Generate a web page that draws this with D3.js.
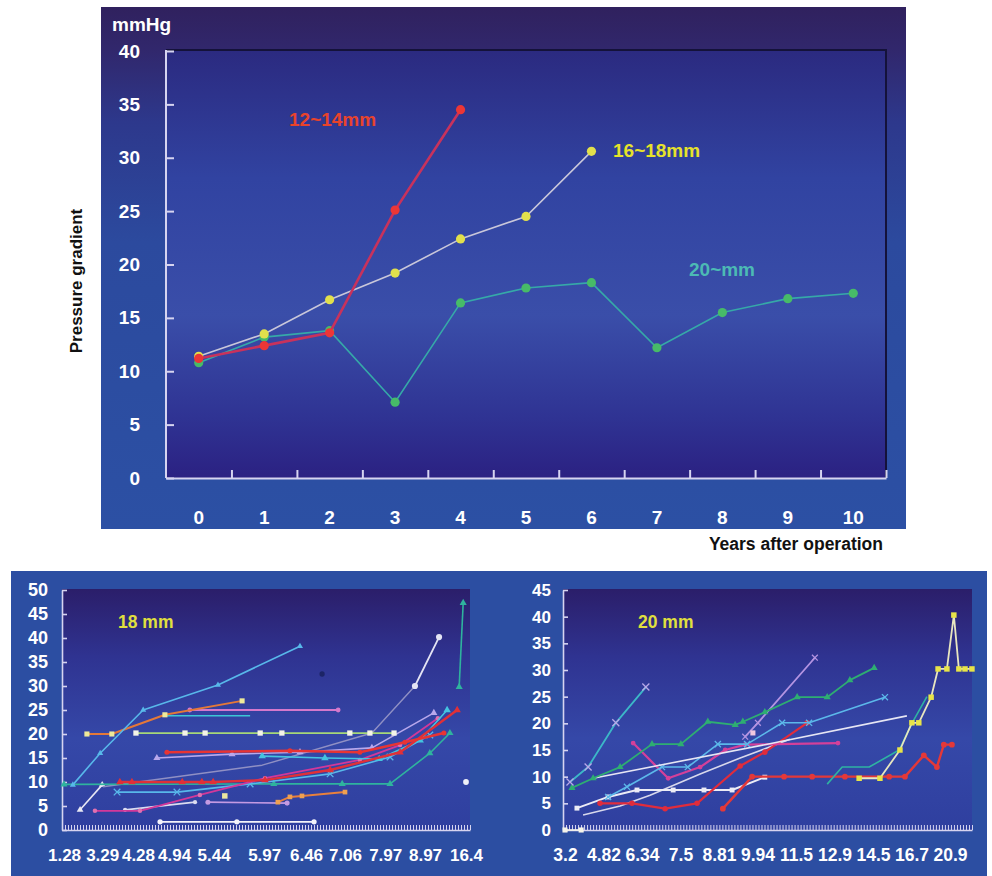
<!DOCTYPE html>
<html>
<head>
<meta charset="utf-8">
<script src="https://cdn.jsdelivr.net/npm/d3@7"></script>
<style>
  html, body { margin: 0; padding: 0; background: #ffffff; }
  svg { display: block; font-family: "Liberation Sans", Arial, Helvetica, sans-serif; font-weight: bold; }
</style>
</head>
<body>
<svg id="chart" width="992" height="876"></svg>
<script>
// ---------- Mean pressure gradient by conduit size (top chart) ----------
const years = [0, 1, 2, 3, 4, 5, 6, 7, 8, 9, 10];
const yTicksTop = [0, 5, 10, 15, 20, 25, 30, 35, 40];
const grad12to14 = [11.2, 12.4, 13.6, 25.1, 34.5];
const grad16to18 = [11.4, 13.5, 16.7, 19.2, 22.4, 24.5, 30.6];
const grad20 = [10.8, 13.2, 13.8, 7.1, 16.4, 17.8, 18.3, 12.2, 15.5, 16.8, 17.3];

// ---------- Individual patients, 18 mm conduit ----------
// x = follow-up sample position (0..100), y = pressure gradient in mmHg
const ageLabels18 = ["1.28", "3.29", "4.28", "4.94", "5.44", "5.97", "6.46", "7.06", "7.97", "8.97", "16.4"];
const ageAt18 = [0, 9.5, 18.4, 27.4, 37.2, 49.8, 60.2, 69.9, 79.9, 89.8, 100];
const yTicks18 = [0, 5, 10, 15, 20, 25, 30, 35, 40, 45, 50];
const p18skyRise = [[2.2, 9.4], [9.0, 16.0], [19.7, 25.0], [38.3, 30.2], [58.7, 38.3]];
const p18orange = [[5.7, 20], [11.9, 20], [25.1, 24], [44.3, 26.9]];
const p18pink = [[31.3, 25], [68.2, 25]];
const p18cyan = [[25.1, 23.8], [46.3, 23.8]];
const p18green = [[17.9, 20.2], [30.1, 20.2], [35.1, 20.2], [48.8, 20.2], [54.2, 20.2], [71.1, 20.2], [76.1, 20.2], [82.1, 20.2]];
const p18redHigh = [[25.6, 16.2], [56.2, 16.5], [73.6, 16.2], [84.8, 18.3], [94.5, 20.2]];
const p18redLow = [[13.9, 10], [16.9, 10], [29.4, 10], [34.3, 10], [37.1, 10], [50.0, 10.4], [66.2, 12.5], [83.6, 16.2], [97.8, 25]];
const p18lavender = [[23.1, 15], [41.8, 15.8], [58.7, 16.2], [76.6, 17.1], [92.0, 24.4]];
const p18cyanTri = [[49.3, 15.4], [64.9, 15], [78.4, 14.8], [88.6, 18.7], [95.3, 25]];
const p18gray = [[9.7, 9], [49.3, 13.5], [76.6, 20.2], [87.3, 30]];
const p18whiteTop = [[87.3, 30], [93.3, 40.2]];
const p18skyX = [[13.2, 7.9], [28.1, 7.9], [46.3, 9.6], [66.2, 11.7], [81.1, 15.2], [91.0, 19.8]];
const p18magenta = [[7.7, 4], [18.9, 4], [33.8, 7.3], [50.0, 10.8], [73.6, 14.6], [83.6, 17.7], [93.0, 23.3]];
const p18whiteRise = [[4, 4.2], [9.5, 9.4]];
const p18whiteLow = [[15.2, 4.2], [32.6, 5.8]];
const p18lilacLow = [[35.8, 5.8], [55.5, 5.6]];
const p18orangeLow = [[53.2, 5.8], [56.2, 6.9], [59.2, 7.1], [69.9, 7.9]];
const p18whiteBase = [[23.9, 1.7], [43.0, 1.7], [62.2, 1.7]];
const p18teal = [[0, 9.5], [52.2, 9.6], [69.2, 9.6], [81.1, 9.6], [91.0, 16], [96.0, 20.2]];
const p18tealEnd = [[98.3, 29.8], [99.3, 47.3]];
const p18single1 = [[100, 10]];
const p18single2 = [[40, 7.1]];
const p18single3 = [[64.2, 32.5]];

// ---------- Individual patients, 20 mm conduit ----------
const ageLabels20 = ["3.2", "4.82", "6.34", "7.5", "8.81", "9.94", "11.5", "12.9", "14.5", "16.7", "20.9"];
const ageAt20 = [0, 10, 20, 30, 40, 50, 60, 70, 80, 90, 100];
const yTicks20 = [0, 5, 10, 15, 20, 25, 30, 35, 40, 45];
const p20tealX = [[1.3, 9.0], [6.0, 11.8], [13.2, 20.1], [21.0, 26.8]];
const p20green = [[1.8, 7.9], [7.3, 9.7], [14.3, 11.8], [22.6, 16.1], [30.1, 16.1], [37.1, 20.3], [44.2, 19.7], [46.2, 20.3], [51.9, 22.1], [60.3, 24.9], [68.1, 24.9], [74.0, 28.1], [80.3, 30.4]];
const p20whiteLong = [[7.3, 9.7], [51.9, 16.0], [88.8, 21.4]];
const p20pink = [[17.7, 16.3], [26.8, 9.7], [35.1, 11.8], [41.6, 15], [46.8, 16], [70.9, 16.3]];
const p20sky = [[11.2, 6.2], [16.1, 8.1], [25.2, 11.8], [31.9, 11.8], [39.7, 16.1], [47.3, 16.1], [56.4, 20.1], [63.4, 20.1], [83.1, 24.9]];
const p20whiteSq = [[3.1, 4.1], [11.2, 6.2], [18.7, 7.5], [28.1, 7.5], [36.1, 7.5], [43.4, 7.5], [51.9, 9.9]];
const p20redLow = [[9.1, 5], [17.4, 5], [26.0, 4], [34.3, 5], [45.5, 12], [51.9, 14.6], [62.9, 20.1]];
const p20redLong = [[41.0, 4], [48.6, 10], [56.9, 10], [64.2, 10], [72.7, 10], [84.2, 10], [88.3, 10], [93.2, 14], [96.6, 11.8], [98.4, 16], [100.5, 16]];
const p20yellow = [[76.4, 9.7], [81.8, 9.7], [87.0, 15], [90.1, 20.1], [91.9, 20.1], [95.1, 24.9], [96.9, 30.2], [99.2, 30.2], [101.0, 40.3], [102.3, 30.2], [103.9, 30.2], [105.7, 30.2]];
const p20teal = [[68.1, 8.6], [72.0, 11.8], [79.0, 11.8], [86.8, 15], [90.1, 20], [94.0, 25]];
const p20lavender = [[46.8, 17.5], [50.1, 20.1], [64.9, 32.3]];
const p20whiteRise = [[4.7, 2.8], [14.3, 4.5], [22.1, 6.5], [35.1, 10.5], [45.5, 13.5], [58.4, 17]];
const p20single = [[48.8, 18.2]];
const p20zero = [[0, 0], [4.2, 0]];

// ---------------------------------------------------------------------------
const svg = d3.select("#chart");
const defs = svg.append("defs");

function vGrad(id, stops) {
  const g = defs.append("linearGradient").attr("id", id)
    .attr("x1", 0).attr("y1", 0).attr("x2", 0).attr("y2", 1);
  stops.forEach(([o, c]) => g.append("stop").attr("offset", o).attr("stop-color", c));
}
vGrad("topPanel", [[0, "#30215e"], [0.08, "#31276c"], [0.22, "#2d388c"], [0.45, "#2c4a9e"], [1, "#2c50a4"]]);
vGrad("topPlot", [[0, "#2b2a80"], [0.3, "#3143a1"], [0.62, "#3a4ea9"], [0.86, "#2f3393"], [1, "#2b2182"]]);
vGrad("botPlot", [[0, "#2b1e6a"], [0.28, "#2f3391"], [0.62, "#3548a8"], [1, "#2f3f9f"]]);

// ======================= TOP CHART =======================
const T = { left: 166, right: 886, top: 51, bottom: 478 };
svg.append("rect").attr("x", 101).attr("y", 7).attr("width", 805).attr("height", 522)
  .attr("fill", "url(#topPanel)");
svg.append("rect").attr("x", T.left).attr("y", 50).attr("width", T.right - T.left).attr("height", T.bottom - 50)
  .attr("fill", "url(#topPlot)");
// dark frame on top and right
svg.append("path").attr("d", `M${T.left},50H${T.right}V${T.bottom}`)
  .attr("fill", "none").attr("stroke", "#14123a").attr("stroke-width", 2);

const xTop = d3.scaleBand().domain(years).range([T.left, T.right]);
const xEdge = d3.scaleLinear().domain([0, years.length]).range([T.left, T.right]);
const yTop = d3.scaleLinear().domain([0, 40]).range([T.bottom, T.top]);
const cx = i => xTop(years[i]) + xTop.bandwidth() / 2;

const axisColor = "#d6d4f0";
function styleAxis(g, fontSize, width) {
  g.selectAll(".domain").attr("stroke", axisColor).attr("stroke-width", width);
  g.selectAll(".tick line").attr("stroke", axisColor).attr("stroke-width", width);
  g.selectAll(".tick text").attr("fill", "#ffffff").attr("font-size", fontSize)
    .attr("font-weight", "bold").attr("font-family", '"Liberation Sans", Arial, sans-serif');
}

const gYTop = svg.append("g").attr("transform", `translate(${T.left},0)`)
  .call(d3.axisLeft(yTop).tickValues(yTicksTop).tickSize(-8).tickSizeOuter(0).tickPadding(26));
styleAxis(gYTop, 19, 2);
gYTop.select(".domain").attr("d", `M0,${T.bottom}V50`);

const gXLab = svg.append("g").attr("transform", `translate(0,${T.bottom})`)
  .call(d3.axisBottom(xTop).tickSize(0).tickPadding(33));
styleAxis(gXLab, 19, 2);
gXLab.select(".domain").remove();
const gXEdge = svg.append("g").attr("transform", `translate(0,${T.bottom})`)
  .call(d3.axisBottom(xEdge).tickValues(d3.range(1, years.length + 1)).tickSize(-8).tickSizeOuter(0).tickFormat(""));
styleAxis(gXEdge, 19, 2);

const lineTop = d3.line().x((d, i) => cx(i)).y(d => yTop(d));
const topSeries = [
  { vals: grad20, line: "#36a9a8", w: 1.6, dot: "#47bb68" },
  { vals: grad16to18, line: "#c9c7da", w: 1.6, dot: "#e2e04c" },
  { vals: grad12to14, line: "#c8325c", w: 2.6, dot: "#ec3636" }
];
topSeries.forEach(s => {
  svg.append("path").datum(s.vals).attr("d", lineTop)
    .attr("fill", "none").attr("stroke", s.line).attr("stroke-width", s.w);
  svg.append("g").selectAll("circle").data(s.vals).join("circle")
    .attr("cx", (d, i) => cx(i)).attr("cy", d => yTop(d)).attr("r", 4.6)
    .attr("fill", s.dot);
});

svg.append("text").attr("x", 289).attr("y", 126).attr("fill", "#e8432c").attr("font-size", 19).text("12~14mm");
svg.append("text").attr("x", 613).attr("y", 157).attr("fill", "#e6e22a").attr("font-size", 19).text("16~18mm");
svg.append("text").attr("x", 689).attr("y", 276).attr("fill", "#4cbab4").attr("font-size", 19).text("20~mm");
svg.append("text").attr("x", 112).attr("y", 31).attr("fill", "#ffffff").attr("font-size", 19).text("mmHg");
svg.append("text").attr("transform", "translate(82,281) rotate(-90)").attr("text-anchor", "middle")
  .attr("fill", "#111111").attr("font-size", 17).text("Pressure gradient");
svg.append("text").attr("x", 883).attr("y", 550).attr("text-anchor", "end")
  .attr("fill", "#111111").attr("font-size", 17.5).text("Years after operation");

// ======================= BOTTOM CHARTS =======================
svg.append("rect").attr("x", 11).attr("y", 571).attr("width", 976).attr("height", 305).attr("fill", "#2c4ea2");

const symbolOf = {
  circle: d3.symbolCircle, square: d3.symbolSquare, triangle: d3.symbolTriangle,
  diamond: d3.symbolDiamond, x: d3.symbolTimes || d3.symbolCross
};

function drawPanel(cfg) {
  const P = cfg.box;
  svg.append("rect").attr("x", P.left).attr("y", P.top).attr("width", P.right - P.left)
    .attr("height", P.bottom - P.top).attr("fill", "url(#botPlot)");
  const x = d3.scaleLinear().domain([0, 100]).range(cfg.xRange);
  const y = d3.scaleLinear().domain([0, cfg.yMax]).range([P.bottom, P.top + 1]);

  // dense sample ticks along the baseline
  const xMinor = d3.scaleLinear().domain([0, 136]).range([P.left, P.right]);
  const gMinor = svg.append("g").attr("transform", `translate(0,${P.bottom})`)
    .call(d3.axisBottom(xMinor).tickValues(d3.range(1, 137)).tickSize(-5).tickSizeOuter(0).tickFormat(""));
  styleAxis(gMinor, 17, 1);
  gMinor.select(".domain").attr("stroke-width", 1.6);

  const gY = svg.append("g").attr("transform", `translate(${P.left},0)`)
    .call(d3.axisLeft(y).tickValues(cfg.yTicks).tickSize(-5).tickSizeOuter(0).tickPadding(cfg.yPad));
  styleAxis(gY, cfg.yFont, 1.6);

  const gX = svg.append("g").attr("transform", `translate(0,${P.bottom})`)
    .call(d3.axisBottom(x).tickValues(cfg.tickAt).tickSize(0).tickPadding(19)
      .tickFormat((d, i) => cfg.tickLabels[i]));
  styleAxis(gX, cfg.xFont, 1);
  gX.select(".domain").remove();

  const line = d3.line().x(d => x(d[0])).y(d => y(d[1]));
  cfg.series.forEach(s => {
    if (s.pts.length > 1) {
      svg.append("path").datum(s.pts).attr("d", line).attr("fill", "none")
        .attr("stroke", s.c).attr("stroke-width", s.w || 1.6).attr("stroke-linejoin", "round");
    }
    if (s.m) {
      const sym = d3.symbol().type(symbolOf[s.m]).size(s.size || 24);
      svg.append("g").selectAll("path").data(s.pts).join("path")
        .attr("transform", d => `translate(${x(d[0])},${y(d[1])})`)
        .attr("d", sym)
        .attr("fill", s.m === "x" ? "none" : (s.mc || s.c))
        .attr("stroke", s.m === "x" ? (s.mc || s.c) : "none")
        .attr("stroke-width", 1.3);
    }
  });

  svg.append("text").attr("x", cfg.title.x).attr("y", 628).attr("fill", "#e0e03e")
    .attr("font-size", 17.5).text(cfg.title.text);
}

drawPanel({
  box: { left: 62, right: 470, top: 589, bottom: 830 },
  xRange: [64, 466], yMax: 50, yTicks: yTicks18, yPad: 14, yFont: 18, xFont: 17,
  tickAt: ageAt18, tickLabels: ageLabels18,
  title: { x: 118, text: "18 mm" },
  series: [
    { pts: p18whiteBase, c: "#f2f2fa", w: 1.8, m: "circle", size: 22 },
    { pts: p18lilacLow, c: "#c49ae2", m: "circle", size: 20 },
    { pts: p18orangeLow, c: "#e8803c", w: 2, m: "square", size: 22, mc: "#f0a050" },
    { pts: p18whiteRise, c: "#e8e8f4", m: "triangle", size: 20 },
    { pts: p18whiteLow, c: "#dcdcf0", m: "circle", size: 14 },
    { pts: p18gray, c: "#9090c4", w: 1.4 },
    { pts: p18whiteTop, c: "#e4e4f4", w: 1.8, m: "circle", size: 30 },
    { pts: p18teal, c: "#2fb39e", w: 1.6, m: "triangle", size: 22 },
    { pts: p18tealEnd, c: "#2fb39e", w: 1.6, m: "triangle", size: 22 },
    { pts: p18skyX, c: "#58b8ea", w: 1.6, m: "x", size: 30 },
    { pts: p18magenta, c: "#d2389a", w: 1.8, m: "circle", size: 16, mc: "#e070b0" },
    { pts: p18lavender, c: "#b8a8ec", w: 1.6, m: "triangle", size: 22 },
    { pts: p18cyanTri, c: "#44c4e0", w: 1.6, m: "triangle", size: 24 },
    { pts: p18redLow, c: "#e03038", w: 2.4, m: "triangle", size: 24 },
    { pts: p18redHigh, c: "#e83434", w: 2.6, m: "circle", size: 20 },
    { pts: p18green, c: "#a6d878", w: 1.8, m: "square", size: 28, mc: "#f4f4e8" },
    { pts: p18cyan, c: "#3cc6d6", w: 1.6 },
    { pts: p18pink, c: "#d478cc", w: 2, m: "circle", size: 18 },
    { pts: p18orange, c: "#e47838", w: 2, m: "square", size: 26, mc: "#eeea9a" },
    { pts: p18skyRise, c: "#58b8ea", w: 1.6, m: "triangle", size: 16 },
    { pts: p18single1, c: "#f0f0f8", m: "circle", size: 26 },
    { pts: p18single2, c: "#eae6a0", m: "square", size: 30 },
    { pts: p18single3, c: "#1c2466", m: "circle", size: 22 }
  ]
});

drawPanel({
  box: { left: 563, right: 972, top: 589, bottom: 830 },
  xRange: [565, 950], yMax: 45, yTicks: yTicks20, yPad: 12, yFont: 17, xFont: 17.5,
  tickAt: ageAt20, tickLabels: ageLabels20,
  title: { x: 638, text: "20 mm" },
  series: [
    { pts: p20zero, c: "#f4f4ea", m: "square", size: 26 },
    { pts: p20whiteRise, c: "#d8d8ec", w: 1.6 },
    { pts: p20whiteSq, c: "#ececf6", w: 2, m: "square", size: 24 },
    { pts: p20redLow, c: "#e02c3c", w: 2.2, m: "circle", size: 24 },
    { pts: p20redLong, c: "#e43838", w: 2.4, m: "circle", size: 26 },
    { pts: p20teal, c: "#2fb3a2", w: 1.6 },
    { pts: p20yellow, c: "#e8e6c0", w: 1.8, m: "square", size: 30, mc: "#e8e448" },
    { pts: p20pink, c: "#d4409a", w: 2.2, m: "circle", size: 18 },
    { pts: p20sky, c: "#5cb8ea", w: 1.6, m: "x", size: 26 },
    { pts: p20whiteLong, c: "#e6e6f4", w: 1.6 },
    { pts: p20lavender, c: "#b494e2", w: 1.8, m: "x", size: 24 },
    { pts: p20green, c: "#2eae72", w: 1.8, m: "triangle", size: 22 },
    { pts: p20tealX, c: "#3cb8c8", w: 1.8, m: "x", size: 34, mc: "#b8a8e8" },
    { pts: p20single, c: "#f0c8e0", m: "square", size: 26 }
  ]
});
</script>
</body>
</html>
